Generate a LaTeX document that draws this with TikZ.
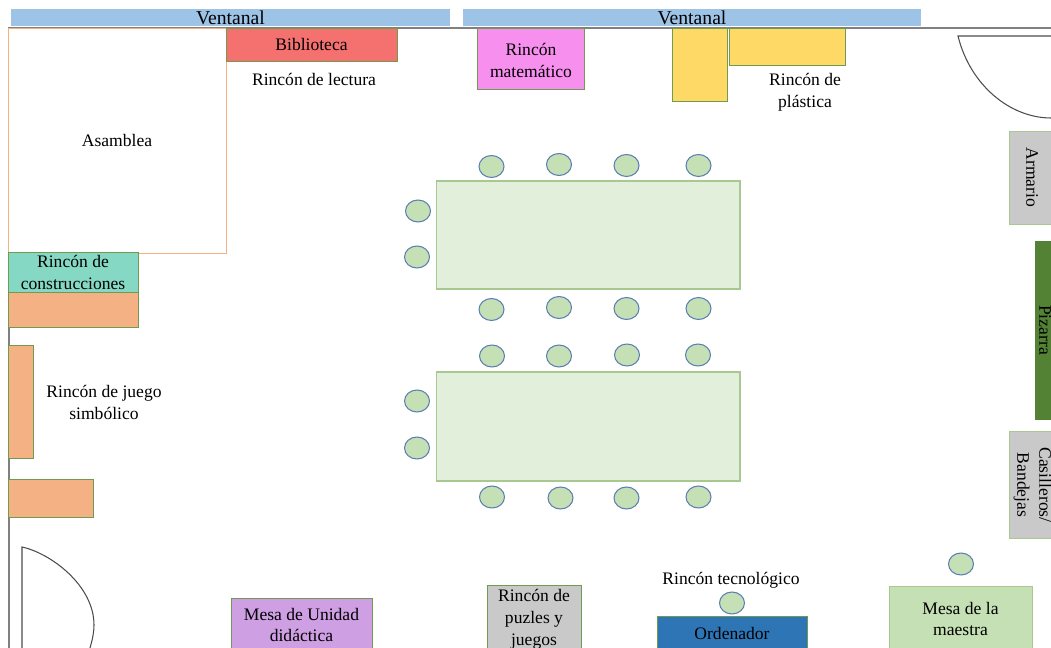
\documentclass[tikz,border=0pt]{standalone}
\usepackage{fontspec}
\usetikzlibrary{shapes.geometric}
\setmainfont{Liberation Serif}
\definecolor{ventanalblue}{HTML}{9DC3E6}
\definecolor{wallgray}{HTML}{808080}
\definecolor{asambleaorange}{HTML}{F4B183}
\definecolor{boxgreen}{HTML}{6F9A50}
\definecolor{lightgreen}{HTML}{A9C88F}
\definecolor{bibliotecared}{HTML}{F4716F}
\definecolor{matepink}{HTML}{F78FEF}
\definecolor{plasticayellow}{HTML}{FFD966}
\definecolor{armariogray}{HTML}{C9C9C9}
\definecolor{pizarragreen}{HTML}{548235}
\definecolor{construteal}{HTML}{85D9C4}
\definecolor{unidadpurple}{HTML}{CE9FE3}
\definecolor{ordenadorblue}{HTML}{2E75B6}
\definecolor{maestragreen}{HTML}{C5E0B4}
\definecolor{mesagreen}{HTML}{E2EFDA}
\definecolor{chairblue}{HTML}{5B7FB5}
\tikzset{
    zone/.style={draw=boxgreen, line width=0.45pt, inner sep=0pt, outer sep=0pt, align=center,
        font=\fontsize{10}{12.5}\selectfont},
    label text/.style={inner sep=0pt, align=center, font=\fontsize{10}{12.5}\selectfont},
    ventanal/.style={fill=ventanalblue, inner sep=0pt, outer sep=0pt, minimum height=0.35cm,
        font=\fontsize{11.2}{13}\selectfont},
    mesa/.style={zone, draw=lightgreen, line width=0.6pt, fill=mesagreen, minimum width=6.08cm},
    chair/.style={ellipse, draw=chairblue, line width=0.6pt, fill=maestragreen, inner sep=0pt,
        minimum width=0.5cm, minimum height=0.44cm},
    wall/.style={wallgray, line width=0.8pt},
    door/.style={line width=0.6pt, black!70}
}
\begin{document}
\begin{tikzpicture}[x=0.02cm, y=-0.02cm]
    \clip (0,0) rectangle (1051,648);

    % Walls
    \draw[wall] (8,28) -- (1051,28);
    \draw[wall] (9,28) -- (9,648);

    % Windows
    \node[ventanal, minimum width=8.78cm] (ventanalA) at (230.5,17.5) {Ventanal};
    \node[ventanal, minimum width=9.16cm] (ventanalB) at (692,17.5) {Ventanal};

    % Corners along the top
    \node[zone, draw=asambleaorange, fill=white, minimum width=4.36cm, minimum height=4.5cm] (asamblea) at (117,140.5) {Asamblea};
    \node[zone, fill=bibliotecared, minimum width=3.42cm, minimum height=0.66cm] (biblioteca) at (311.5,44.5) {Biblioteca};
    \node[label text] (lectura) at (314,79) {Rincón de lectura};
    \node[zone, fill=matepink, minimum width=2.14cm, minimum height=1.22cm] (matematico) at (530.5,58.5) {};
    \node[label text] (matematicoText) at (531,60.5) {Rincón\\matemático};
    \node[zone, fill=plasticayellow, minimum width=1.1cm, minimum height=1.46cm] (plasticaA) at (700,64.5) {};
    \node[zone, fill=plasticayellow, minimum width=2.32cm, minimum height=0.74cm] (plasticaB) at (787,46.5) {};
    \node[label text] (plastica) at (805,92) {Rincón de\\plástica};

    % Doors
    \draw[door] (1051,36) -- (958,36) .. controls (970,85) and (1010,118) .. (1051,118);
    \draw[door] (22,648) -- (22,547) .. controls (50,553) and (94,585) .. (94,625) .. controls (94,633) and (92,641) .. (90,648);

    % Right wall
    \node[zone, draw=lightgreen, fill=armariogray, rotate=-90, minimum width=1.86cm, minimum height=0.92cm] (armario) at (1032,177.5) {Armario};
    \node[zone, draw=pizarragreen, fill=pizarragreen, rotate=-90, minimum width=3.56cm, minimum height=0.4cm] (pizarra) at (1045,330) {Pizarra};
    \node[zone, draw=lightgreen, fill=armariogray, rotate=-90, minimum width=2.14cm, minimum height=0.94cm] (casilleros) at (1032.5,485) {Casilleros/\\Bandejas};

    % Left wall
    \node[zone, fill=construteal, minimum width=2.6cm, minimum height=0.8cm] (construcciones) at (73,272) {Rincón de\\construcciones};
    \node[zone, fill=asambleaorange, minimum width=2.6cm, minimum height=0.7cm] (simbolicoA) at (73,309.5) {};
    \node[zone, fill=asambleaorange, minimum width=0.5cm, minimum height=2.26cm] (simbolicoB) at (20.5,401.5) {};
    \node[zone, fill=asambleaorange, minimum width=1.7cm, minimum height=0.76cm] (simbolicoC) at (50.5,498) {};
    \node[label text] (simbolico) at (104,402) {Rincón de juego\\simbólico};

    % Bottom row
    \node[zone, fill=unidadpurple, minimum width=2.82cm, minimum height=1.08cm] (unidad) at (301.5,625) {Mesa de Unidad\\didáctica};
    \node[zone, fill=armariogray, minimum width=1.88cm, minimum height=1.38cm] (puzles) at (534,619.5) {Rincón de\\puzles y\\juegos};
    \node[label text] (tecnologico) at (731,580) {Rincón tecnológico};
    \node[zone, fill=ordenadorblue, minimum width=3cm, minimum height=0.68cm] (ordenador) at (732,633) {Ordenador};
    \node[chair] (chairOrdenador) at (732,603) {};
    \node[zone, draw=lightgreen, fill=maestragreen, minimum width=2.86cm, minimum height=1.32cm] (maestra) at (960.5,619) {Mesa de la\\maestra};
    \node[chair] (chairMaestra) at (961,564) {};

    % Tables
    \node[mesa, minimum height=2.16cm] (mesaA) at (588,235) {};
    \node[mesa, minimum height=2.18cm] (mesaB) at (588,426.5) {};

    % Chairs of the first table
    \node[chair] (chairA1) at (491.5,166.5) {};
    \node[chair] (chairA2) at (559,164.5) {};
    \node[chair] (chairA3) at (626.5,165.5) {};
    \node[chair] (chairA4) at (698.5,165.5) {};
    \node[chair] (chairA5) at (491.5,309.5) {};
    \node[chair] (chairA6) at (559,307.5) {};
    \node[chair] (chairA7) at (626.5,308.5) {};
    \node[chair] (chairA8) at (698.5,308.5) {};
    \node[chair] (chairA9) at (418,211) {};
    \node[chair] (chairA10) at (417,257) {};

    % Chairs of the second table
    \node[chair] (chairB1) at (492,356) {};
    \node[chair] (chairB2) at (559,356) {};
    \node[chair] (chairB3) at (627,355) {};
    \node[chair] (chairB4) at (698,355) {};
    \node[chair] (chairB5) at (492,497) {};
    \node[chair] (chairB6) at (560.5,498) {};
    \node[chair] (chairB7) at (626.5,498) {};
    \node[chair] (chairB8) at (698.5,497) {};
    \node[chair] (chairB9) at (417,401) {};
    \node[chair] (chairB10) at (417,448) {};
\end{tikzpicture}
\end{document}
